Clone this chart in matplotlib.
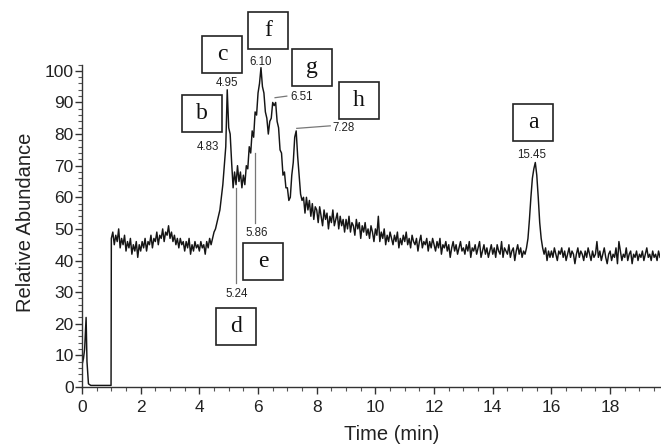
import numpy as np
import matplotlib
matplotlib.use("Agg")
import matplotlib.pyplot as plt
from matplotlib.patches import Rectangle
from matplotlib.ticker import MultipleLocator

# ---------------- data ----------------
lead_time = [0.0, 0.05, 0.09, 0.14, 0.17, 0.22, 0.30, 0.99]
lead_abund = [7, 9, 12, 22, 8, 1, 0.5, 0.5]

main_start = 1.0
main_step = 0.05
abund_01 = [47, 49, 45, 48, 46, 50, 44, 47, 45, 48, 43, 46, 44, 47, 42, 45, 43, 46, 41, 45]
abund_02 = [43, 46, 44, 47, 43, 46, 45, 48, 44, 47, 46, 49, 45, 48, 47, 50, 46, 49, 48, 51]
abund_03 = [47, 49, 46, 48, 45, 47, 44, 47, 45, 46, 43, 46, 44, 47, 42, 45, 43, 46, 44, 45]
abund_04 = [43, 46, 44, 45, 42, 46, 44, 47, 45, 47, 49, 50, 52, 54, 56, 60, 64, 70, 76, 94]
abund_05 = [82, 80, 71, 63, 68, 64, 70, 65, 68, 63, 67, 64, 70, 69, 76, 74, 81, 79, 87, 86]
abund_06 = [93, 96, 101, 95, 93, 87, 85, 80, 84, 85, 90, 89, 90, 84, 82, 75, 74, 67, 68, 63]
abund_07 = [63, 59, 60, 67, 71, 79, 81, 73, 67, 61, 59, 60, 55, 60, 56, 59, 54, 58, 53, 57]
abund_08 = [56, 52, 57, 54, 51, 56, 53, 55, 50, 54, 52, 56, 51, 53, 55, 50, 54, 51, 53, 49]
abund_09 = [53, 50, 54, 49, 52, 51, 48, 53, 50, 52, 47, 51, 49, 52, 48, 50, 47, 51, 49, 46]
abund_10 = [50, 48, 54, 46, 49, 47, 50, 45, 48, 46, 49, 47, 45, 48, 46, 49, 44, 47, 45, 48]
abund_11 = [46, 49, 45, 47, 44, 48, 46, 45, 47, 43, 46, 48, 44, 46, 45, 47, 43, 46, 44, 47]
abund_12 = [45, 43, 46, 44, 47, 42, 45, 44, 46, 43, 45, 41, 44, 46, 43, 45, 42, 44, 46, 43]
abund_13 = [44, 42, 45, 43, 46, 41, 44, 43, 45, 42, 44, 46, 41, 43, 45, 42, 44, 41, 43, 45]
abund_14 = [42, 44, 41, 45, 43, 42, 46, 41, 44, 43, 42, 45, 41, 43, 44, 40, 43, 45, 42, 44]
abund_15 = [41, 43, 42, 44, 47, 53, 60, 66, 69, 71, 67, 60, 52, 47, 44, 42, 44, 40, 43, 41]
abund_16 = [43, 41, 44, 42, 40, 43, 42, 44, 41, 43, 40, 42, 44, 41, 43, 42, 39, 42, 44, 41]
abund_17 = [43, 42, 40, 43, 41, 44, 42, 40, 43, 41, 42, 46, 41, 43, 40, 42, 44, 41, 39, 42]
abund_18 = [43, 40, 42, 41, 44, 39, 46, 43, 40, 42, 41, 44, 40, 42, 43, 39, 42, 41, 43, 40]
abund_19 = [42, 41, 43, 40, 42, 44, 41, 42, 40, 43, 41, 42, 40, 43, 41]

main_abund = (abund_01 + abund_02 + abund_03 + abund_04 + abund_05 + abund_06 +
              abund_07 + abund_08 + abund_09 + abund_10 + abund_11 + abund_12 +
              abund_13 + abund_14 + abund_15 + abund_16 + abund_17 + abund_18 + abund_19)
main_time = main_start + main_step * np.arange(len(main_abund))

time = np.concatenate([lead_time, main_time])
abund = np.concatenate([lead_abund, main_abund])

peak_letters = ["a", "b", "c", "d", "e", "f", "g", "h"]
peak_rt = ["15.45", "4.83", "4.95", "5.24", "5.86", "6.10", "6.51", "7.28"]

x_ticks = [0, 2, 4, 6, 8, 10, 12, 14, 16, 18]
y_ticks = [0, 10, 20, 30, 40, 50, 60, 70, 80, 90, 100]

# ---------------- layout ----------------
W, H = 661, 447
fig = plt.figure(figsize=(W / 100, H / 100), dpi=100)
ax = fig.add_axes([82 / W, (H - 387) / H, 578 / W, (387 - 64.5) / H])

sans = ["Liberation Sans", "DejaVu Sans"]
serif = ["Liberation Serif", "DejaVu Serif"]

ax.plot(time, abund, color="#151515", lw=1.05)

ax.set_xlim(0, 19.7)
ax.set_ylim(0, 102)
ax.spines["top"].set_visible(False)
ax.spines["right"].set_visible(False)
for s in ("left", "bottom"):
    ax.spines[s].set_color("#333333")
    ax.spines[s].set_linewidth(1.0)

ax.set_xticks(x_ticks)
ax.set_yticks(y_ticks)
ax.xaxis.set_minor_locator(MultipleLocator(0.5))
ax.yaxis.set_minor_locator(MultipleLocator(2))
ax.tick_params(axis="both", which="major", direction="out", length=5, width=1.0,
               color="#333333", labelsize=12.5, labelcolor="#222222")
ax.tick_params(axis="both", which="minor", direction="out", length=3, width=0.8,
               color="#555555")
ax.tick_params(axis="x", which="major", pad=4)
ax.tick_params(axis="y", which="major", pad=1)
for lab in ax.get_xticklabels() + ax.get_yticklabels():
    lab.set_fontfamily(sans)

ax.set_xlabel("Time (min)", fontsize=14.5, family=sans, color="#222222")
ax.set_ylabel("Relative Abundance", fontsize=14.5, family=sans, color="#222222")
ax.xaxis.set_label_coords(0.536, -0.118)
ax.yaxis.set_label_coords(-0.082, 0.51)

# letter boxes (centre positions in data coords)
box_pos = {"a": (15.38, 83.5), "b": (4.09, 86.4), "c": (4.77, 105.1),
           "d": (5.25, 19.0), "e": (6.17, 39.6), "f": (6.34, 112.7),
           "g": (7.84, 100.9), "h": (9.44, 90.5)}
bw, bh = 1.36, 11.7
for letter in peak_letters:
    cx, cy = box_pos[letter]
    ax.add_patch(Rectangle((cx - bw / 2, cy - bh / 2), bw, bh, fill=True,
                           facecolor="white", edgecolor="#222222", lw=1.2,
                           clip_on=False, zorder=5))
    ax.text(cx, cy, letter, ha="center", va="center", fontsize=17,
            family=serif, color="#111111", zorder=6, clip_on=False)

# retention time labels
rt_pos = {"15.45": (15.34, 73.4), "4.83": (4.30, 75.9), "4.95": (4.94, 96.2),
          "5.24": (5.27, 29.4), "5.86": (5.97, 48.7), "6.10": (6.10, 102.8),
          "6.51": (7.50, 91.8), "7.28": (8.93, 82.0)}
for rt in peak_rt:
    px, py = rt_pos[rt]
    ax.text(px, py, rt, ha="center", va="center", fontsize=8.3,
            family=sans, color="#222222", zorder=6, clip_on=False)

# leader lines
leaders = [([5.26, 5.26], [63, 33]), ([5.9, 5.9], [74, 52]),
           ([6.58, 6.98], [91.5, 92.0]), ([7.32, 8.46], [81.8, 82.6])]
for lx, ly in leaders:
    ax.plot(lx, ly, color="#777777", lw=0.9, zorder=4, clip_on=False)

fig.savefig("out.png", dpi=100)
